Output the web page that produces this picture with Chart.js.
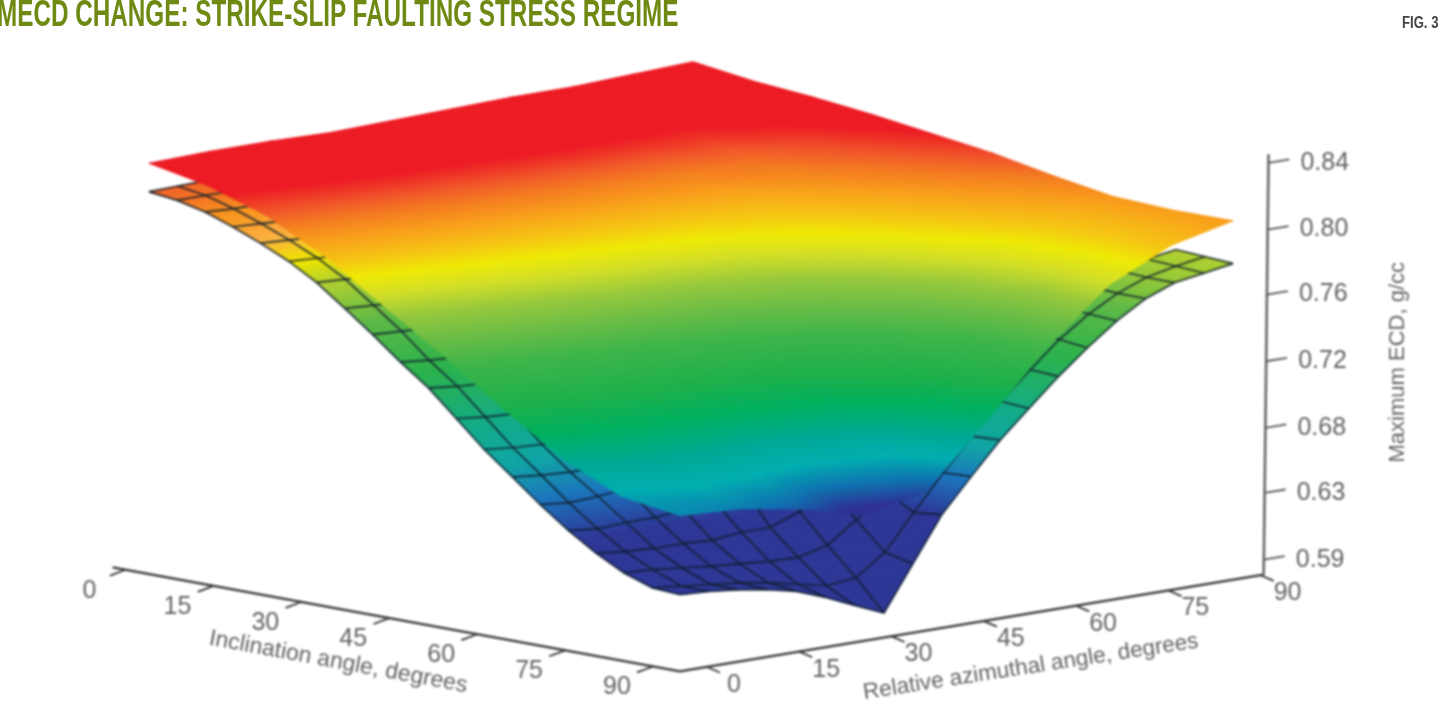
<!DOCTYPE html>
<html>
<head>
<meta charset="utf-8">
<title>MECD change</title>
<script src="https://cdn.jsdelivr.net/npm/chart.js@4/dist/chart.umd.min.js"></script>
<style>
  html, body { margin: 0; padding: 0; background: #fff; overflow: hidden; }
  #page { position: relative; width: 1440px; height: 707px; overflow: hidden; }
  #chart { position: absolute; left: 0; top: 0; filter: blur(0.8px); }
  #title {
    position: absolute; left: -3px; top: -7px; margin: 0; white-space: nowrap;
    font: bold 37px "Liberation Sans Narrow", "Liberation Sans", sans-serif;
    color: #6f8a12; transform-origin: left top; transform: scaleX(0.656); filter: blur(0.7px);
  }
  #fig {
    position: absolute; left: 1402px; top: 14px; white-space: nowrap;
    font: bold 16px "Liberation Sans Narrow", "Liberation Sans", sans-serif;
    color: #444; transform-origin: left top; transform: scaleX(0.82); filter: blur(0.6px);
  }
</style>
</head>
<body>
<div id="page">
  <canvas id="chart" width="1440" height="707"></canvas>
  <h1 id="title">MECD CHANGE: STRIKE-SLIP FAULTING STRESS REGIME</h1>
  <div id="fig">FIG. 3</div>
</div>
<script>
// Axis ticks
const inclinationTicks = [0, 15, 30, 45, 60, 75, 90];
const azimuthTicks = [0, 15, 30, 45, 60, 75, 90];
const ecdTicks = [0.59, 0.632, 0.673, 0.715, 0.757, 0.798, 0.84];
const ecdTickLabels = ['0.59', '0.63', '0.68', '0.72', '0.76', '0.80', '0.84'];

// Upper sheet, max ECD (g/cc): rows are inclination, columns azimuth
const upperAngles = [0, 10, 20, 30, 40, 50, 60, 70, 80, 90];
const upperEcd = [
  [.831, .832, .832, .831, .832, .833, .834, .834, .8355, .837],
  [.824, .826, .828, .828, .829, .829, .829, .829, .829, .832],
  [.812, .814, .816, .817, .818, .819, .819, .819, .823, .829],
  [.793, .797, .800, .802, .804, .805, .806, .810, .817, .825],
  [.769, .774, .779, .783, .786, .789, .794, .803, .812, .820],
  [.745, .751, .757, .762, .766, .772, .782, .794, .806, .815],
  [.719, .726, .731, .736, .743, .755, .769, .785, .798, .808],
  [.695, .703, .706, .708, .716, .736, .756, .776, .791, .802],
  [.678, .685, .685, .682, .690, .716, .745, .772, .790, .8005],
  [.673, .671, .664, .654, .662, .701, .7415, .774, .792, .801]
];

// Lower meshed sheet: only the part that shows from under the upper sheet
const meshAngles = [0, 4.74, 9.47, 14.2, 18.9, 23.7, 28.4, 33.2, 37.9, 42.6, 47.4, 52.1, 56.8, 61.6, 66.3, 71.1, 75.8, 80.5, 85.3, 90];
const lowerEcd = [
  [.813, .8135, .814],
  [.811, .811, .811],
  [.807, .806, .806],
  [.801, .800, .799],
  [.794, .793, .792],
  [.786, .785, .784],
  [.776, .775, .774],
  [.763, .762, .761, .761],
  [.750, .749, .748, .748],
  [.736, .734, .733, .733, .734],
  [.723, .721, .720, .720, .721],
  [.707, .705, .704, .704, .705],
  [.691, .689, .688, .688, .690],
  [.677, .675, .674, .674, .676, .680],
  [.663, .661, .662, .664, .668, .672],
  [.650, .648, .649, .649, .651, .654, .660, .665, .672, .680],
  [.639, .637, .636, .636, .635, .637, .637, .644, .655, .668],
  [.630, .629, .627, .625, .6235, .622, .6215, .626, .639, .654, .672, .690, .708, .724, .739, .752, .762, .769, .773, .776],
  [.624, .622, .620, .618, .615, .611, .607, .609, .622, .644, .666, .686, .705, .722, .738, .751, .761, .768, .772, .775],
  [.623, .622, .620, .617, .613, .606, .598, .590, .618, .646, .667, .687, .704, .721, .736, .750, .761, .768, .771, .774]
];

// ECD -> colour for each sheet
const upperRampEcd = [.658, .668, .680, .692, .706, .720, .740, .753, .764, .775, .783, .790, .7995, .8075, .813, .8205];
const upperRampColors = ['#2e3192', '#1070b0', '#00aeb0', '#00a994', '#00b060', '#1cb04b', '#3fb54a', '#6cbd45', '#95c83d', '#d4df26', '#eeea05', '#f5c813', '#f9a11b', '#f47b20', '#f1592a', '#ed1c24'];
const lowerRampEcd = [.645, .665, .682, .70, .73, .755, .775, .785, .795, .805, .815];
const lowerRampColors = ['#2d3796', '#1c75bc', '#10a5a5', '#12ab8a', '#2bb24c', '#5cb947', '#b0d030', '#eee600', '#fbb040', '#f7941d', '#f15a29'];

// View of the box: where the floor corners land, and how tall a unit of ECD is
const floorCorners = { a: [149, 560], b: [680, 662], c: [1233, 570], d: [693, 468] };
// the drawn inclination axis runs a little flatter than the sheets' floor
const axisCorners = { a: [152, 565], b: [680, 662], c: [1233, 570], d: [693, 468] };
const floorEcd = 0.5805;
const ecdHeight = 1584;
const axisInc = 94.6;
const axisAz = -4.4;

function project(inc, az, ecd, corners) {
  const u = inc / 90, v = az / 90;
  const { a, b, c, d } = corners || floorCorners;
  const mix = i => a[i] * (1 - u) * (1 - v) + b[i] * u * (1 - v) + c[i] * u * v + d[i] * (1 - u) * v;
  return { x: mix(0), y: mix(1) - ecdHeight * (ecd - floorEcd), ecd: ecd };
}

function hexToRgb(hex) {
  return [1, 3, 5].map(i => parseInt(hex.substr(i, 2), 16));
}

function rampColor(ramp, z) {
  const { values, colors } = ramp;
  if (z <= values[0]) return colors[0];
  for (let i = 1; i < values.length; i++) {
    if (z <= values[i]) {
      const t = (z - values[i - 1]) / (values[i] - values[i - 1]);
      const p = hexToRgb(colors[i - 1]), q = hexToRgb(colors[i]);
      return `rgb(${p.map((c, k) => Math.round(c + (q[k] - c) * t)).join(',')})`;
    }
  }
  return colors[colors.length - 1];
}

// A linear gradient is exact on a triangle, so neighbours meet without a colour step
function triangleFill(context, tri, ramp) {
  const chart = context.chart;
  // options get resolved once before the scales have their size
  if (!chart.chartArea) return rampColor(ramp, tri[0].ecd);
  const [a, b, c] = tri.map(p => ({
    x: chart.scales.x.getPixelForValue(p.x),
    y: chart.scales.y.getPixelForValue(p.y),
    z: p.ecd
  }));
  const lo = [a, b, c].reduce((m, p) => (p.z < m.z ? p : m));
  const hiZ = Math.max(a.z, b.z, c.z);
  const range = hiZ - lo.z;
  const ux = b.x - a.x, uy = b.y - a.y, uz = b.z - a.z;
  const vx = c.x - a.x, vy = c.y - a.y, vz = c.z - a.z;
  const det = ux * vy - vx * uy;
  if (range < 1e-5 || !(Math.abs(det) > 1e-6)) return rampColor(ramp, lo.z);
  const gx = (uz * vy - vz * uy) / det;
  const gy = (vz * ux - uz * vx) / det;
  const n2 = gx * gx + gy * gy;
  const grad = chart.ctx.createLinearGradient(lo.x, lo.y, lo.x + gx * range / n2, lo.y + gy * range / n2);
  grad.addColorStop(0, rampColor(ramp, lo.z));
  ramp.values.forEach((z, i) => {
    if (z > lo.z && z < hiZ) grad.addColorStop((z - lo.z) / range, ramp.colors[i]);
  });
  grad.addColorStop(1, rampColor(ramp, hiZ));
  return grad;
}

const datasets = [];

function addTriangle(tri, ramp) {
  const paint = context => triangleFill(context, tri, ramp);
  datasets.push({
    data: [tri[0], tri[1], tri[2], tri[0]],
    fill: 'shape',
    backgroundColor: paint,
    borderColor: paint,
    borderWidth: 1
  });
}

function addLine(points, color, width) {
  datasets.push({ data: points, borderColor: color, borderWidth: width, fill: false });
}

function addSheet(rowAngles, colAngles, grid, ramp) {
  for (let i = 0; i < rowAngles.length - 1; i++) {
    for (let j = 0; j < colAngles.length - 1; j++) {
      const z = [grid[i][j], grid[i][j + 1], grid[i + 1][j + 1], grid[i + 1][j]];
      if (z.some(v => v == null)) continue;
      const p = project(rowAngles[i], colAngles[j], z[0]);
      const q = project(rowAngles[i], colAngles[j + 1], z[1]);
      const r = project(rowAngles[i + 1], colAngles[j + 1], z[2]);
      const s = project(rowAngles[i + 1], colAngles[j], z[3]);
      addTriangle([p, q, r], ramp);
      addTriangle([p, r, s], ramp);
    }
  }
}

// mesh lines, broken wherever the table has no value
function addMesh(angles, grid, color, width) {
  const flush = run => { if (run.length > 1) addLine(run, color, width); };
  angles.forEach((inc, i) => {
    flush(grid[i].map((z, j) => project(inc, angles[j], z)));
  });
  angles.forEach((az, j) => {
    let run = [];
    angles.forEach((inc, i) => {
      if (grid[i][j] == null) { flush(run); run = []; }
      else run.push(project(inc, az, grid[i][j]));
    });
    flush(run);
  });
}

addSheet(meshAngles, meshAngles, lowerEcd, { values: lowerRampEcd, colors: lowerRampColors });
addMesh(meshAngles, lowerEcd, 'rgba(15,30,45,0.78)', 1.9);
addSheet(upperAngles, upperAngles, upperEcd, { values: upperRampEcd, colors: upperRampColors });

// Box axes and tick hooks
const axisColor = '#333';
const onAxis = (inc, az, ecd) => project(inc, az, ecd, axisCorners);
addLine([onAxis(-2.2, axisAz, floorEcd), onAxis(axisInc, axisAz, floorEcd), onAxis(axisInc, 90.5, floorEcd)], axisColor, 2.2);
inclinationTicks.forEach(t => addLine([onAxis(t, axisAz, floorEcd), onAxis(t, axisAz - 2.6, floorEcd - 0.002)], axisColor, 1.8));
azimuthTicks.forEach(t => addLine([onAxis(axisInc, t, floorEcd), onAxis(axisInc + 2.2, t, floorEcd - 0.002)], axisColor, 1.8));

const ecdAxisPoint = (z, extraAz) => onAxis(axisInc, 90.5 + (z - floorEcd) * 3 + extraAz, z);
addLine([ecdAxisPoint(floorEcd, 0), ecdAxisPoint(0.8454, 0)], '#666', 2.6);
ecdTicks.forEach(t => addLine([ecdAxisPoint(t, 0), ecdAxisPoint(t, 3.4)], '#555', 1.8));

// last one pushed goes on top
datasets.forEach((d, i) => {
  d.order = -i;
  d.showLine = true;
  d.pointRadius = 0;
  d.pointHoverRadius = 0;
  d.tension = 0;
});

const axisText = {
  id: 'axisText',
  afterDatasetsDraw(chart) {
    const { ctx, scales } = chart;
    const put = (text, at, dx, dy, font, angle, align) => {
      ctx.save();
      ctx.translate(scales.x.getPixelForValue(at.x) + dx, scales.y.getPixelForValue(at.y) + dy);
      ctx.rotate((angle || 0) * Math.PI / 180);
      ctx.font = font;
      ctx.fillStyle = '#626262';
      ctx.textAlign = align || 'center';
      ctx.textBaseline = 'middle';
      ctx.fillText(text, 0, 0);
      ctx.restore();
    };
    const tickFont = '25px "Liberation Sans"';
    inclinationTicks.forEach(t => put(String(t), onAxis(t, axisAz, floorEcd), -36, 21, tickFont));
    azimuthTicks.forEach(t => put(String(t), onAxis(axisInc, t, floorEcd), 27, 18, tickFont));
    ecdTicks.forEach((t, i) => put(ecdTickLabels[i], ecdAxisPoint(t, 0), 32, 0, tickFont, 0, 'left'));
    put('Inclination angle, degrees', onAxis(45, axisAz, floorEcd), -51, 44, '23px "Liberation Sans"', 10.5);
    put('Relative azimuthal angle, degrees', onAxis(axisInc, 45, floorEcd), 47, 46, '22.5px "Liberation Sans"', -8.8);
    put('Maximum ECD, g/cc', ecdAxisPoint(0.715, 0), 132, 1, '22px "Liberation Sans"', -90);
  }
};

new Chart(document.getElementById('chart'), {
  type: 'scatter',
  data: { datasets: datasets },
  options: {
    responsive: false,
    animation: false,
    events: [],
    layout: { padding: 0 },
    plugins: { legend: { display: false }, tooltip: { enabled: false } },
    scales: {
      x: { type: 'linear', display: false, min: 0, max: 1440 },
      y: { type: 'linear', display: false, min: 0, max: 707, reverse: true }
    }
  },
  plugins: [axisText]
});
</script>
</body>
</html>
